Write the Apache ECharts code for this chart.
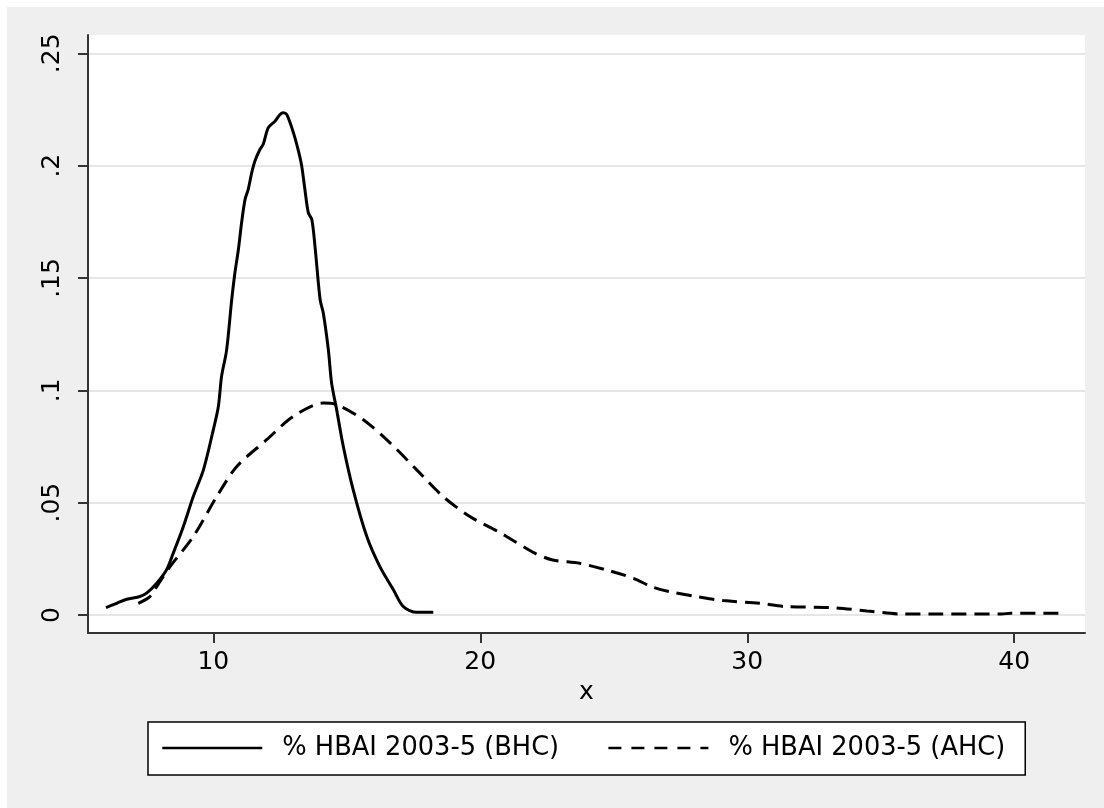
<!DOCTYPE html>
<html>
<head>
<meta charset="utf-8">
<script src="https://cdn.jsdelivr.net/npm/echarts@6/dist/echarts.min.js"></script>
<style>
    html, body { margin: 0; padding: 0; background: #ffffff; }
    #chart { position: absolute; left: 7px; top: 7px; width: 1097px; height: 801px; }
</style>
</head>
<body>
<div id="chart"></div>
<script>
// BHC density (solid)
const bhcX = [5.98, 6.38, 6.76, 7.25, 7.5, 7.88, 8.25, 8.5, 8.88, 9.25, 9.63, 10.0, 10.19, 10.31, 10.5, 10.69, 10.81, 10.94, 11.06, 11.19, 11.31, 11.44, 11.56, 11.75, 11.87, 12.06, 12.31, 12.5, 12.62, 12.75, 13.0, 13.19, 13.31, 13.43, 13.56, 13.69, 13.81, 14.0, 14.12, 14.31, 14.43, 14.62, 14.87, 15.24, 15.75, 16.24, 16.75, 17.12, 17.62, 18.24];
const bhcY = [0.0033, 0.0052, 0.007, 0.0082, 0.0097, 0.0141, 0.0201, 0.0275, 0.0394, 0.0527, 0.0646, 0.0824, 0.0928, 0.1062, 0.118, 0.1404, 0.1523, 0.1627, 0.1746, 0.185, 0.1895, 0.1969, 0.2021, 0.2073, 0.2095, 0.2169, 0.2198, 0.2228, 0.2236, 0.2228, 0.2147, 0.2065, 0.2, 0.1895, 0.179, 0.176, 0.164, 0.1404, 0.1344, 0.118, 0.1033, 0.0914, 0.075, 0.0557, 0.0349, 0.0215, 0.0111, 0.0037, 0.0012, 0.0012];

// AHC density (dashed)
const ahcX = [7.19, 7.63, 7.88, 8.38, 9.25, 10.13, 10.88, 12.0, 13.0, 14.12, 14.62, 15.62, 16.63, 17.62, 18.61, 19.61, 20.67, 21.2, 22.04, 22.71, 23.72, 24.73, 25.74, 26.41, 27.08, 28.09, 29.1, 30.45, 31.46, 33.14, 34.48, 35.83, 37.17, 39.53, 39.87, 41.88];
const ahcY = [0.0052, 0.0082, 0.0126, 0.0215, 0.0349, 0.0527, 0.0661, 0.078, 0.0884, 0.0943, 0.0936, 0.0869, 0.0765, 0.0646, 0.0527, 0.0438, 0.0371, 0.0334, 0.0275, 0.0245, 0.023, 0.02, 0.0163, 0.0126, 0.0104, 0.0082, 0.0064, 0.0052, 0.0037, 0.0033, 0.0018, 0.0004, 0.0004, 0.0004, 0.0008, 0.0008];

const seriesNames = ['% HBAI 2003-5 (BHC)', '% HBAI 2003-5 (AHC)'];
const xTicks = [10, 20, 30, 40];
const yTicks = [0, 0.05, 0.1, 0.15, 0.2, 0.25];

const zip = (xs, ys) => xs.map((x, i) => [x, ys[i]]);
const font = 'DejaVu Sans';
const axisColor = '#333333';

const chart = echarts.init(document.getElementById('chart'));
chart.setOption({
    backgroundColor: '#efefef',
    animation: false,
    grid: {
        left: 81,
        top: 28,
        right: 19,
        bottom: 175,
        show: true,
        backgroundColor: '#ffffff',
        borderWidth: 0
    },
    xAxis: {
        type: 'value',
        min: 5.307,
        max: 42.65,
        name: 'x',
        nameLocation: 'middle',
        nameGap: 45,
        nameTextStyle: { fontFamily: font, fontSize: 25, color: '#000' },
        axisLine: { show: true, onZero: false, lineStyle: { color: axisColor, width: 2 } },
        axisTick: { show: true, length: 10, customValues: xTicks, lineStyle: { color: axisColor, width: 2 } },
        axisLabel: { customValues: xTicks, margin: 17, fontFamily: font, fontSize: 25, color: '#000' },
        splitLine: { show: false }
    },
    yAxis: {
        type: 'value',
        min: -0.00803,
        max: 0.25816,
        axisLine: { show: true, lineStyle: { color: axisColor, width: 2 } },
        axisTick: { show: true, length: 10, customValues: yTicks, lineStyle: { color: axisColor, width: 2 } },
        axisLabel: {
            customValues: yTicks,
            rotate: 90,
            margin: 23,
            fontFamily: font,
            fontSize: 25,
            color: '#000',
            formatter: v => (v === 0 ? '0' : String(v).replace(/^0\./, '.'))
        },
        splitLine: { show: true, lineStyle: { color: '#e6e6e6', width: 2 } }
    },
    legend: {
        left: 141,
        top: 715,
        orient: 'horizontal',
        backgroundColor: '#ffffff',
        borderColor: '#000000',
        borderWidth: 1.5,
        borderRadius: 0,
        padding: [13, 20, 14, 13],
        itemWidth: 100,
        itemHeight: 28,
        itemGap: 48,
        itemStyle: { opacity: 0 },
        textStyle: { fontFamily: font, fontSize: 25.7, color: '#000', padding: [0, 0, 0, 15] },
        data: [
            { name: seriesNames[0], itemStyle: { opacity: 0 }, lineStyle: { color: '#000', width: 2.5, type: 'solid' } },
            { name: seriesNames[1], itemStyle: { opacity: 0 }, lineStyle: { color: '#000', width: 2.5, type: [13, 10] } }
        ]
    },
    series: [
        {
            name: seriesNames[0],
            type: 'line',
            data: zip(bhcX, bhcY),
            symbol: 'none',
            showSymbol: false,
            smooth: 0.3,
            lineStyle: { color: '#000', width: 3, type: 'solid' },
            itemStyle: { color: '#000' }
        },
        {
            name: seriesNames[1],
            type: 'line',
            data: zip(ahcX, ahcY),
            symbol: 'none',
            showSymbol: false,
            smooth: 0.3,
            lineStyle: { color: '#000', width: 3, type: [15, 8] },
            itemStyle: { color: '#000' }
        }
    ]
});
</script>
</body>
</html>
